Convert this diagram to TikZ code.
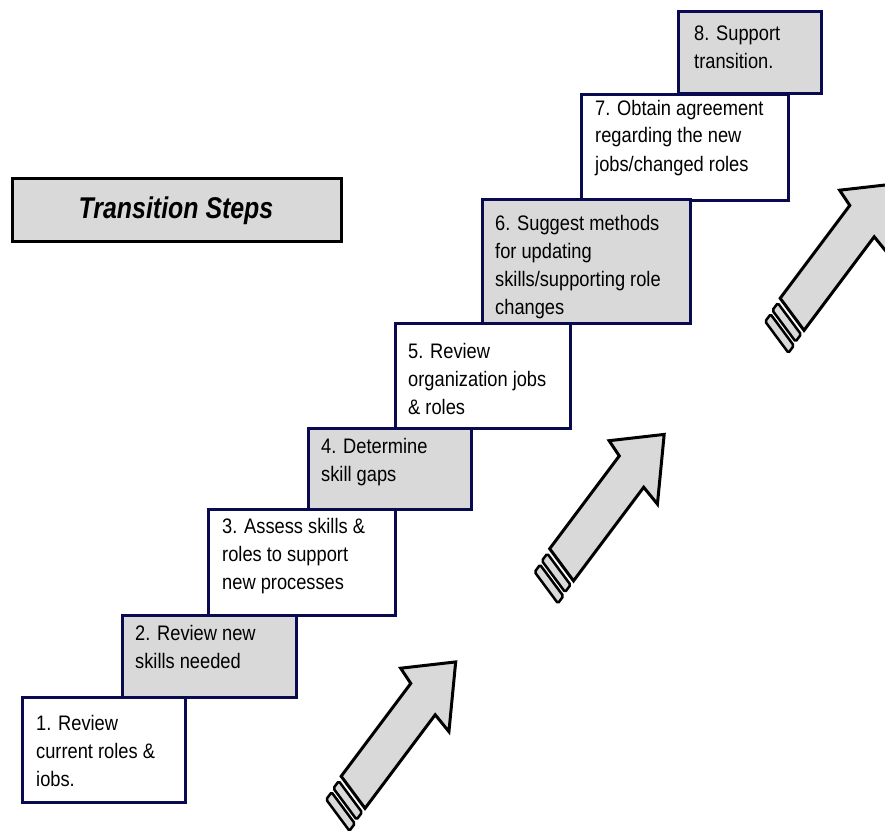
\documentclass[tikz,border=0pt]{standalone}
\usepackage{fontspec}
\setmainfont{Liberation Sans}[FakeStretch=0.87]
\newfontfamily\titlefont{Liberation Sans}[FakeStretch=0.83]
\definecolor{boxgray}{RGB}{217,217,217}
\definecolor{navyline}{RGB}{10,10,80}
\newcommand{\boxtext}[1]{\parbox[t]{8cm}{\raggedright #1}}
\newcommand{\stairarrow}[1]{%
  \begin{scope}[shift={(#1)}, x={(0.6pt,0.8pt)}, y={(-0.596pt,0.803pt)}]
    \draw[arrowshape] (0,19) -- (116,19) -- (117,37) -- (167,-5) -- (118,-43) -- (117,-21) -- (0,-21) -- cycle;
    \draw[ringshape] (-5,18) -- (-14,18) -- (-14,-21) -- (-5,-21) -- cycle;
    \draw[ringshape] (-18,17) -- (-27,17) -- (-27,-22) -- (-18,-22) -- cycle;
  \end{scope}}
\tikzset{
  stepbox/.style={draw=navyline, line width=3pt, anchor=north west, inner sep=0pt, outer sep=0pt},
  graybox/.style={stepbox, fill=boxgray},
  whitebox/.style={stepbox, fill=white},
  steptext/.style={anchor=base west, inner sep=0pt, font=\fontsize{21pt}{28pt}\selectfont},
  arrowshape/.style={draw=black, line width=3pt, fill=boxgray, line join=miter},
  ringshape/.style={draw=black, line width=2.5pt, fill=boxgray, rounded corners=1.5pt},
}
\begin{document}
\begin{tikzpicture}[x=1pt,y=-1pt]
\useasboundingbox[fill=white] (0,0) rectangle (885,832);

% title
\node[draw=black, line width=2.5pt, fill=boxgray, anchor=north west, inner sep=0pt,
      minimum width=329pt, minimum height=63pt] (title) at (11,177) {};
\node[anchor=base, inner sep=0pt, font=\titlefont\fontsize{30pt}{36pt}\selectfont\bfseries\itshape]
      (titletext) at (176,218) {Transition Steps};

% step boxes
\node[graybox,  minimum width=143pt, minimum height=82pt]  (b8) at (678,12)  {};
\node[whitebox, minimum width=207pt, minimum height=105pt] (b7) at (581,95)  {};
\node[graybox,  minimum width=208pt, minimum height=124pt] (b6) at (482,199) {};
\node[whitebox, minimum width=175pt, minimum height=105pt] (b5) at (395,323) {};
\node[graybox,  minimum width=163pt, minimum height=81pt]  (b4) at (308,428) {};
\node[whitebox, minimum width=187pt, minimum height=106pt] (b3) at (208,509) {};
\node[graybox,  minimum width=174pt, minimum height=82pt]  (b2) at (122,615) {};
\node[whitebox, minimum width=163pt, minimum height=105pt] (b1) at (22,697)  {};

% texts
\node[steptext] (t8) at (694,41)  {\boxtext{8. Support\\transition.}};
\node[steptext] (t7) at (595,115) {\boxtext{7. Obtain agreement\\regarding the new\\jobs/changed roles}};
\node[steptext] (t6) at (495,230) {\boxtext{6. Suggest methods\\for updating\\skills/supporting role\\changes}};
\node[steptext] (t5) at (408,358) {\boxtext{5. Review\\organization jobs\\\& roles}};
\node[steptext] (t4) at (321,453) {\boxtext{4. Determine\\skill gaps}};
\node[steptext] (t3) at (222,533) {\boxtext{3. Assess skills \&\\roles to support\\new processes}};
\node[steptext] (t2) at (135,640) {\boxtext{2. Review new\\skills needed}};
\node[steptext] (t1) at (36,730)  {\boxtext{1. Review\\current roles \&\\iobs.}};

% arrows
\stairarrow{352.5,791.5}
\stairarrow{561,564}
\stairarrow{791.5,313.5}
\end{tikzpicture}
\end{document}
